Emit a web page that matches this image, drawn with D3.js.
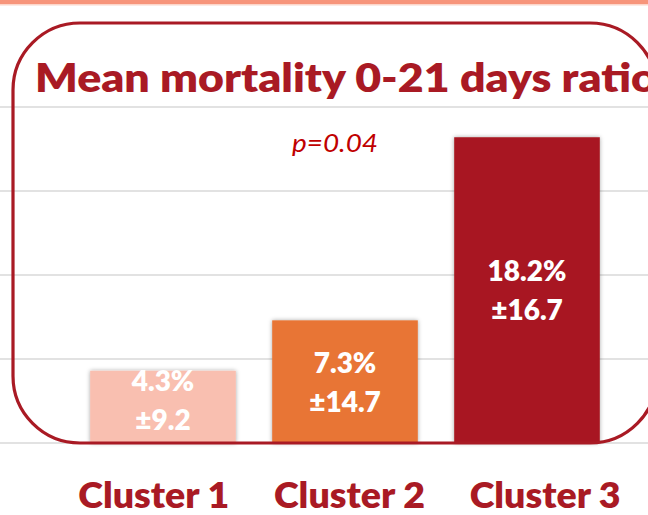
<!DOCTYPE html>
<html>
<head>
<meta charset="utf-8">
<script src="https://cdn.jsdelivr.net/npm/d3@7"></script>
<style>
  body { margin: 0; background: #fff; }
  svg { display: block; }
</style>
</head>
<body>
<div class="d3-container"></div>
<script>
const clusters = ["Cluster 1", "Cluster 2", "Cluster 3"];
const meanPct = [4.3, 7.3, 18.2];
const sdPct = [9.2, 14.7, 16.7];
const yTicks = [0, 5, 10, 15, 20];
const titleText = "Mean mortality 0-21 days ratio";
const pText = "p=0.04";

const W = 648, H = 515;
const darkRed = "#a91a24";
const font = "Lato, 'Open Sans', 'Noto Sans', sans-serif";

const svg = d3.select(".d3-container").append("svg")
    .attr("width", W).attr("height", H);

const defs = svg.append("defs");
const shadow = defs.append("filter").attr("id", "shadow")
    .attr("x", "-10%").attr("y", "-10%").attr("width", "120%").attr("height", "120%");
shadow.append("feDropShadow").attr("dx", 0).attr("dy", 0)
    .attr("stdDeviation", 2).attr("flood-color", "#000").attr("flood-opacity", 0.35);

svg.append("rect").attr("width", W).attr("height", H).attr("fill", "#fff");

// slide band at the top
svg.append("rect").attr("x", 0).attr("y", 0).attr("width", W).attr("height", 4).attr("fill", "#f7957b");
svg.append("rect").attr("x", 0).attr("y", 4).attr("width", W).attr("height", 1.5).attr("fill", "#fcd6ca");

const x = d3.scaleBand().domain(clusters).range([72, 618]).paddingInner(0.2).paddingOuter(0.1);
const y = d3.scaleLinear().domain([0, 20]).range([443, 107]);
const color = d3.scaleOrdinal().domain(clusters).range(["#f9bfb0", "#e87434", "#a81923"]);
const xLabel = d3.scalePoint().domain(clusters).range([56, 643]).padding(0.5);

// gridlines
svg.append("g").selectAll("line").data(yTicks).join("line")
    .attr("x1", 0).attr("x2", W)
    .attr("y1", d => y(d)).attr("y2", d => y(d))
    .attr("stroke", "#d9d9d9").attr("stroke-width", 1.5);

const rows = clusters.map((c, i) => ({ c, mean: meanPct[i], sd: sdPct[i] }));

svg.append("g").selectAll("rect").data(rows).join("rect")
    .attr("x", d => x(d.c))
    .attr("y", d => y(d.mean))
    .attr("width", x.bandwidth())
    .attr("height", d => y(0) - y(d.mean))
    .attr("fill", d => color(d.c))
    .attr("filter", "url(#shadow)");

// value labels inside bars
const lab = svg.append("g").attr("font-family", font).attr("font-weight", 800)
    .attr("font-size", 28).attr("fill", "#fff").attr("text-anchor", "middle");
rows.forEach(d => {
    const mid = (y(d.mean) + y(0)) / 2;
    const b2 = Math.min(mid + 30, y(0) - 13);
    const b1 = b2 - 39;
    lab.append("text").attr("x", x(d.c) + x.bandwidth() / 2).attr("y", b1).text(d.mean.toFixed(1) + "%");
    lab.append("text").attr("x", x(d.c) + x.bandwidth() / 2).attr("y", b2).text("±" + d.sd.toFixed(1));
});

// rounded frame
svg.append("rect").attr("x", 13).attr("y", 23).attr("width", 644).attr("height", 420)
    .attr("rx", 67).attr("ry", 67)
    .attr("fill", "none").attr("stroke", darkRed).attr("stroke-width", 3.2);

// title
svg.append("text").attr("x", 35).attr("y", 92)
    .attr("font-family", font).attr("font-weight", 800).attr("font-size", 40)
    .attr("fill", darkRed)
    .attr("textLength", 622).attr("lengthAdjust", "spacingAndGlyphs")
    .text(titleText);

// p value
svg.append("text").attr("x", 292).attr("y", 152)
    .attr("font-family", font).attr("font-style", "italic").attr("font-size", 25)
    .attr("fill", "#c00000")
    .attr("textLength", 86).attr("lengthAdjust", "spacingAndGlyphs")
    .text(pText);

// category labels
svg.append("g").selectAll("text").data(clusters).join("text")
    .attr("x", d => xLabel(d)).attr("y", 508)
    .attr("text-anchor", "middle")
    .attr("font-family", font).attr("font-weight", 800).attr("font-size", 36)
    .attr("fill", darkRed)
    .attr("textLength", 151).attr("lengthAdjust", "spacingAndGlyphs")
    .text(d => d);
</script>
</body>
</html>
